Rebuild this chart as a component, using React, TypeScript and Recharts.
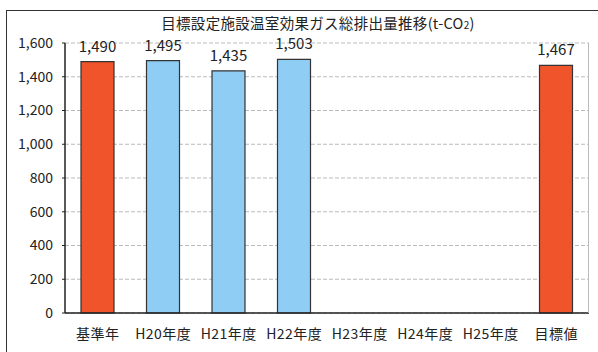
import { BarChart, Bar, XAxis, YAxis, CartesianGrid, Cell, LabelList } from 'recharts';

const categories = ['基準年', 'H20年度', 'H21年度', 'H22年度', 'H23年度', 'H24年度', 'H25年度', '目標値'];
const emissions: (number | null)[] = [1490, 1495, 1435, 1503, null, null, null, 1467];
const yTicks = [0, 200, 400, 600, 800, 1000, 1200, 1400, 1600];

const ORANGE = '#f0542a';
const BLUE = '#8fcdf4';
const FONT = '"Noto Sans CJK JP", "Noto Sans", sans-serif';

const data = categories.map((name, i) => ({ name, value: emissions[i] }));

export default function App() {
  return (
    <div style={{ position: 'fixed', left: 0, top: 0, width: 598, height: 352, background: '#fff', overflow: 'hidden', fontFamily: FONT }}>
      {/* outer frame, runs off the right and bottom edges */}
      <div style={{ position: 'absolute', left: 6, top: 10, width: 640, height: 400, borderLeft: '1.5px solid #333', borderTop: '1.5px solid #333' }} />
      <div style={{ position: 'absolute', left: 0, width: 636, top: 15, textAlign: 'center', fontSize: 14.5, color: '#222', lineHeight: '15px', letterSpacing: 0.3 }}>
        目標設定施設温室効果ガス総排出量推移(t-CO<span style={{ fontSize: 10 }}>2</span>)
      </div>
      <BarChart
        width={598}
        height={352}
        data={data}
        margin={{ top: 43, right: 9, left: 0, bottom: 0 }}
        style={{ position: 'absolute', left: 0, top: 0 }}
      >
        <CartesianGrid vertical={false} stroke="#bbb" strokeDasharray="4 2" />
        <XAxis
          dataKey="name"
          height={39}
          tickLine={false}
          axisLine={{ stroke: '#222', strokeWidth: 1.5 }}
          tick={{ fill: '#222', fontSize: 14, fontFamily: FONT, letterSpacing: 0.5 }}
          interval={0}
          tickMargin={10}
        />
        <YAxis
          width={65}
          domain={[0, 1600]}
          ticks={yTicks}
          tickFormatter={(v: number) => v.toLocaleString('en-US')}
          axisLine={{ stroke: '#222', strokeWidth: 1.5 }}
          tickLine={{ stroke: '#222' }}
          tickSize={3}
          tickMargin={9}
          tick={{ fill: '#222', fontSize: 14, fontFamily: FONT }}
        />
        <Bar dataKey="value" barSize={33} stroke="#333" strokeWidth={1.2} isAnimationActive={false}>
          {data.map((d, i) => (
            <Cell key={d.name} fill={i === 0 || i === categories.length - 1 ? ORANGE : BLUE} />
          ))}
          <LabelList
            dataKey="value"
            position="top"
            offset={10}
            formatter={(v: any) => (v == null ? '' : Number(v).toLocaleString('en-US'))}
            style={{ fill: '#222', fontSize: 15, fontFamily: FONT }}
          />
        </Bar>
      </BarChart>
      {/* right edge of plot box */}
      <div style={{ position: 'absolute', left: 588, top: 43, width: 1, height: 270, background: '#bbb' }} />
    </div>
  );
}
